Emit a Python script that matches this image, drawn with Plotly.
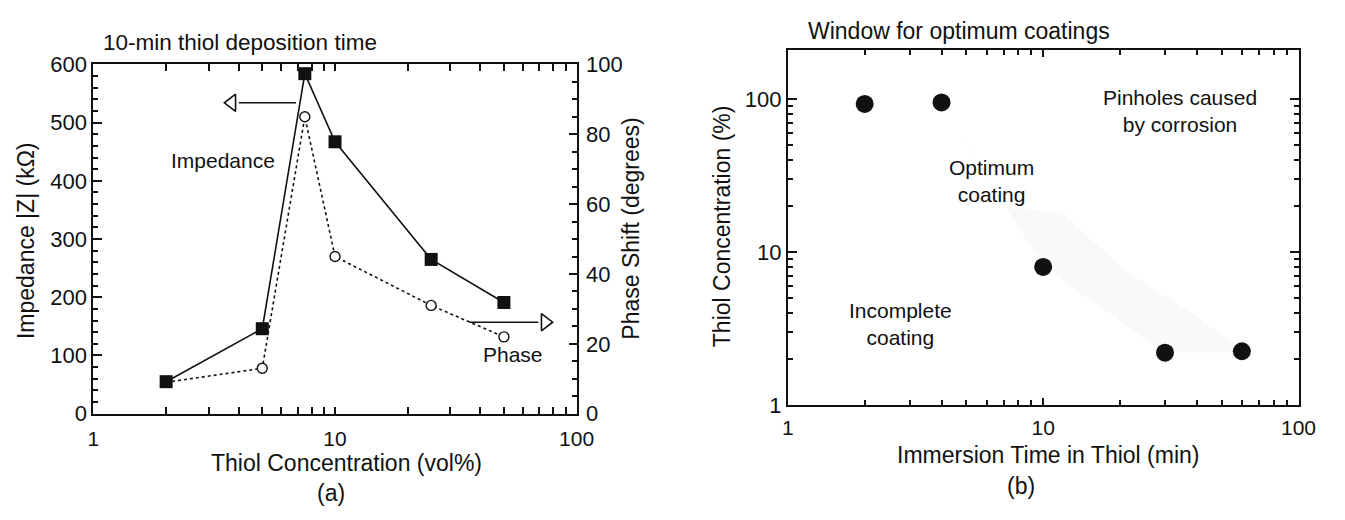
import plotly.graph_objects as go

W, H = 1345, 520

# ---------------- Panel (a) data ----------------
conc_a = [2, 5, 7.5, 10, 25, 50]          # Thiol concentration (vol%)
impedance = [55, 146, 584, 467, 265, 191]  # |Z| (kOhm)
phase = [9, 13, 85, 45, 31, 22]            # phase shift (degrees)

imp_arrow_x = [6.9, 4.0]      # shaft of "Impedance" arrow (data x)
imp_arrow_y = [534, 534]
imp_head_x = [3.74]
imp_head_y = [534]
ph_arrow_x = [36, 69.4]       # shaft of "Phase" arrow
ph_arrow_y = [26.2, 26.2]
ph_head_x = [74.1]
ph_head_y = [26.2]

# ---------------- Panel (b) data ----------------
time_b = [2, 4, 10, 30, 60]          # Immersion time (min)
conc_b = [93, 95, 8, 2.2, 2.25]      # Thiol concentration (%)
band_x = [4, 7, 12, 20, 40, 60, 60, 30, 10, 4]
band_y = [95, 20, 18, 8, 3.8, 2.3, 2.2, 2.2, 8, 95]

log_major = [1, 10, 100]
log_minor = [2, 3, 4, 5, 6, 7, 8, 9, 20, 30, 40, 50, 60, 70, 80, 90]

FONT = "Liberation Sans, Arial, Helvetica, sans-serif"
BLACK = "#111111"

fig = go.Figure()

# band (very faint stipple region)
fig.add_trace(go.Scatter(x=band_x, y=band_y, xaxis="x2", yaxis="y3", mode="lines",
                         fill="toself", fillcolor="rgba(0,0,0,0.022)",
                         line=dict(width=0), hoverinfo="skip", showlegend=False))

# phase (right axis, y)
fig.add_trace(go.Scatter(x=conc_a, y=phase, xaxis="x", yaxis="y", mode="lines+markers",
                         line=dict(color=BLACK, width=1.6, dash="dot"),
                         marker=dict(symbol="circle", size=10, color="white",
                                     line=dict(color=BLACK, width=1.4)),
                         showlegend=False, cliponaxis=False))
# phase arrow
fig.add_trace(go.Scatter(x=ph_arrow_x, y=ph_arrow_y, xaxis="x", yaxis="y", mode="lines",
                         line=dict(color=BLACK, width=1.6), showlegend=False))
fig.add_trace(go.Scatter(x=ph_head_x, y=ph_head_y, xaxis="x", yaxis="y", mode="markers",
                         marker=dict(symbol="triangle-right-open", size=15, color=BLACK,
                                     line=dict(width=1.6, color=BLACK)),
                         showlegend=False, cliponaxis=False))

# impedance (left axis, y2)
fig.add_trace(go.Scatter(x=conc_a, y=impedance, xaxis="x", yaxis="y2", mode="lines+markers",
                         line=dict(color=BLACK, width=1.6),
                         marker=dict(symbol="square", size=13, color=BLACK),
                         showlegend=False, cliponaxis=False))
fig.add_trace(go.Scatter(x=imp_arrow_x, y=imp_arrow_y, xaxis="x", yaxis="y2", mode="lines",
                         line=dict(color=BLACK, width=1.6), showlegend=False))
fig.add_trace(go.Scatter(x=imp_head_x, y=imp_head_y, xaxis="x", yaxis="y2", mode="markers",
                         marker=dict(symbol="triangle-left-open", size=15, color=BLACK,
                                     line=dict(width=1.6, color=BLACK)),
                         showlegend=False, cliponaxis=False))

# panel (b) points
fig.add_trace(go.Scatter(x=time_b, y=conc_b, xaxis="x2", yaxis="y3", mode="markers",
                         marker=dict(symbol="circle", size=18, color=BLACK),
                         showlegend=False, cliponaxis=False))

tickfont = dict(family=FONT, size=22, color=BLACK)
xtickfont = dict(family=FONT, size=21, color=BLACK)
common = dict(showline=True, linewidth=2, linecolor=BLACK, ticks="inside",
              tickcolor=BLACK, tickwidth=1.5, showgrid=False, zeroline=False)

def px_x(p):
    return p / W

def px_y(p):
    return 1 - p / H

fig.update_layout(
    width=W, height=H, autosize=False,
    margin=dict(l=0, r=0, t=0, b=0, pad=0),
    paper_bgcolor="white", plot_bgcolor="white",
    font=dict(family=FONT, color=BLACK),
    xaxis=dict(type="log", range=[0, 2], domain=[px_x(89), px_x(581)], anchor="y",
               tickmode="array", tickvals=log_major, ticktext=["1", "10", "100"],
               ticklen=7, mirror="allticks", ticklabelstandoff=5, tickfont=xtickfont,
               minor=dict(tickmode="array", tickvals=log_minor, ticks="inside",
                          ticklen=5, tickcolor=BLACK, tickwidth=1.5, showgrid=False),
               **common),
    yaxis=dict(range=[0, 100], domain=[px_y(422), px_y(55)], anchor="x", side="right",
               dtick=20, ticklen=8, ticklabelstandoff=3, tickfont=tickfont,
               minor=dict(dtick=5, ticks="inside", ticklen=5, tickcolor=BLACK,
                          tickwidth=1.5, showgrid=False),
               **common),
    yaxis2=dict(range=[0, 600], overlaying="y", anchor="x", side="left",
                dtick=100, ticklen=9, tickfont=tickfont,
                minor=dict(dtick=20, ticks="inside", ticklen=5, tickcolor=BLACK,
                           tickwidth=1.5, showgrid=False),
                **common),
    xaxis2=dict(type="log", range=[0, 2], domain=[px_x(796), px_x(1316)], anchor="y3",
                tickmode="array", tickvals=log_major, ticktext=["1", "10", "100"],
                ticklen=7, mirror="allticks", ticklabelstandoff=3, tickfont=xtickfont,
                minor=dict(tickmode="array", tickvals=log_minor, ticks="inside",
                           ticklen=5, tickcolor=BLACK, tickwidth=1.5, showgrid=False),
                **common),
    yaxis3=dict(type="log", range=[0, 2.32], domain=[px_y(413), px_y(40)], anchor="x2",
                tickmode="array", tickvals=log_major, ticktext=["1", "10", "100"],
                ticklen=9, mirror="allticks", tickfont=tickfont,
                minor=dict(tickmode="array", tickvals=log_minor, ticks="inside",
                           ticklen=5, tickcolor=BLACK, tickwidth=1.5, showgrid=False),
                **common),
)

def txt(x, y, s, size=23, angle=0, xanchor="center", yanchor="middle"):
    fig.add_annotation(x=px_x(x), y=px_y(y), xref="paper", yref="paper", text=s,
                       showarrow=False, textangle=angle, xanchor=xanchor, yanchor=yanchor,
                       font=dict(family=FONT, size=size, color=BLACK))

# panel (a) texts
txt(97, 32, "10-min thiol deposition time", size=22.5, xanchor="left")
txt(21, 240, "Impedance |Z| (kΩ)", angle=-90)
txt(636, 228, "Phase Shift (degrees)", angle=-90)
txt(347, 474, "Thiol Concentration (vol%)")
txt(331, 505, "(a)")
txt(221, 156, "Impedance", size=21)
txt(516, 360, "Phase", size=21)

# panel (b) texts
txt(815, 20, "Window for optimum coatings", size=23, xanchor="left")
txt(729, 225, "Thiol Concentration (%)", angle=-90)
txt(1061, 465, "Immersion Time in Thiol (min)")
txt(1033, 498, "(b)")
txt(1195, 104, "Pinholes caused<br>by corrosion", size=21)
txt(1003, 178, "Optimum<br>coating", size=21)
txt(911, 328, "Incomplete<br>coating", size=21)

fig.write_html("out.html")
